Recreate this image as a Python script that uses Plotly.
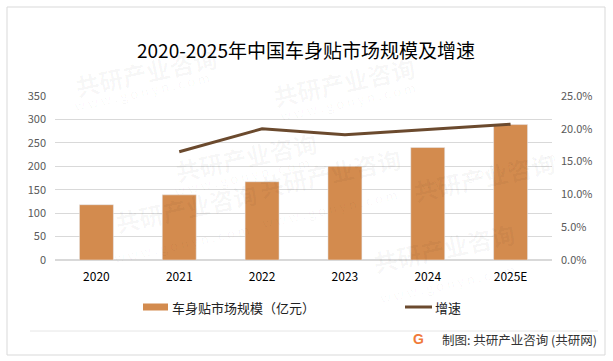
import plotly.graph_objects as go

years = ["2020", "2021", "2022", "2023", "2024", "2025E"]
market_size = [118, 139, 167, 200, 240, 289]
growth_years = ["2021", "2022", "2023", "2024", "2025E"]
growth_rate = [0.165, 0.200, 0.191, 0.199, 0.207]

title_text = "2020-2025年中国车身贴市场规模及增速"
bar_name = "车身贴市场规模（亿元）"
line_name = "增速"
footer_text = "制图: 共研产业咨询 (共研网)"

BAR_COLOR = "#D38B4E"
LINE_COLOR = "#6B4A2E"
FONT = "Noto Sans CJK SC"

W, H = 613, 361
L, R, T, B = 55, 552, 96, 260


def px(x):
    return (x - L) / (R - L)


def py(y):
    return (B - y) / (B - T)


fig = go.Figure()
fig.add_trace(go.Bar(x=years, y=market_size, name=bar_name, marker_color=BAR_COLOR,
                     width=0.41, showlegend=False, hoverinfo="skip"))
fig.add_trace(go.Scatter(x=growth_years, y=growth_rate, name=line_name, yaxis="y2",
                         mode="lines", line=dict(color=LINE_COLOR, width=3), showlegend=False,
                         hoverinfo="skip"))

shapes = [
    # outer border
    dict(type="rect", xref="paper", yref="paper", x0=px(7), x1=px(605), y0=py(7), y1=py(355),
         line=dict(color="#D9D9D9", width=1), fillcolor="rgba(0,0,0,0)", layer="below"),
    # legend swatches
    dict(type="rect", xref="paper", yref="paper", x0=px(143), x1=px(168), y0=py(310.5), y1=py(303.5),
         line=dict(width=0), fillcolor=BAR_COLOR),
    dict(type="line", xref="paper", yref="paper", x0=px(405), x1=px(432), y0=py(307), y1=py(307),
         line=dict(color=LINE_COLOR, width=3)),
    # separator
    dict(type="line", xref="paper", yref="paper", x0=px(30), x1=px(598), y0=py(331), y1=py(331),
         line=dict(color="#E6E6E6", width=1)),
]

annotations = [
    dict(text=title_text, xref="paper", yref="paper", x=px(306), y=py(50), showarrow=False,
         font=dict(family=FONT, size=19, color="#000000"), xanchor="center", yanchor="middle"),
    dict(text=bar_name, xref="paper", yref="paper", x=px(170), y=py(307), showarrow=False,
         font=dict(family=FONT, size=13, color="#222222"), xanchor="left", yanchor="middle"),
    dict(text=line_name, xref="paper", yref="paper", x=px(433), y=py(307), showarrow=False,
         font=dict(family=FONT, size=13, color="#222222"), xanchor="left", yanchor="middle"),
    dict(text="<b>G</b>", xref="paper", yref="paper", x=px(418), y=py(339), showarrow=False,
         font=dict(family="Liberation Sans", size=14, color="#F07A3A"), xanchor="center", yanchor="middle"),
    dict(text=footer_text, xref="paper", yref="paper", x=px(599), y=py(339), showarrow=False,
         font=dict(family=FONT, size=12.5, color="#333333"), xanchor="right", yanchor="middle"),
]

# faint watermarks
wm_positions = [(170, 130), (420, 55), (330, 215), (110, 250), (560, 150), (520, 290), (70, 45)]
for (wx, wy) in wm_positions:
    annotations.append(dict(text="<b>共研产业咨询</b>", xref="paper", yref="paper", x=px(wx), y=py(wy - 8),
                            showarrow=False, textangle=-12,
                            font=dict(family=FONT, size=24, color="rgba(0,0,0,0.035)")))
    annotations.append(dict(text="w w w . g o n y n . c o m", xref="paper", yref="paper", x=px(wx), y=py(wy + 20),
                            showarrow=False, textangle=-12,
                            font=dict(family=FONT, size=13, color="rgba(0,0,0,0.035)")))

fig.update_layout(
    width=W, height=H,
    margin=dict(l=L, r=W - R, t=T, b=H - B, pad=0),
    paper_bgcolor="white", plot_bgcolor="white",
    bargap=0.59,
    hovermode=False,
    font=dict(family=FONT),
    xaxis=dict(type="category", categoryorder="array", categoryarray=years, showgrid=False,
               showline=False, ticks="", tickfont=dict(family=FONT, size=12, color="#000000"),
               ticklabelstandoff=8),
    yaxis=dict(range=[0, 350], dtick=50, showgrid=True, gridcolor="#D9D9D9", gridwidth=1,
               zeroline=True, zerolinecolor="#D9D9D9", showline=False, ticks="",
               tickfont=dict(family=FONT, size=11, color="#595959"), ticklabelstandoff=8),
    yaxis2=dict(range=[0, 0.25], dtick=0.05, tickformat=".1%", overlaying="y", side="right",
                showgrid=False, zeroline=False, showline=False, ticks="",
                tickfont=dict(family=FONT, size=11, color="#595959"), ticklabelstandoff=8),
    shapes=shapes,
    annotations=annotations,
)

fig.write_html("out.html", config={"displayModeBar": False, "staticPlot": True},
               post_script="document.body.style.margin='0';document.body.style.padding='0';")
